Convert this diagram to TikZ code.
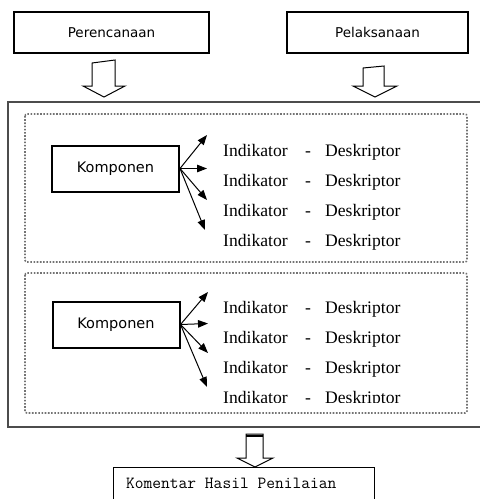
\documentclass[tikz,border=0pt]{standalone}
\usepackage{fontspec}
\setmainfont{Liberation Serif}
\setsansfont{DejaVu Sans}
\usetikzlibrary{arrows.meta}
\begin{document}
\begin{tikzpicture}[x=1pt,y=-1pt,
  topbox/.style={draw, line width=1.8pt, inner sep=0pt, font=\sffamily\fontsize{13.5}{16}\selectfont},
  kbox/.style={draw, line width=2pt, inner sep=0pt, minimum width=127pt, minimum height=46pt, font=\sffamily\fontsize{14.5}{17}\selectfont},
  blockarrow/.style={draw, line width=1pt, fill=white, line join=miter},
  frame/.style={draw=black!70, line width=2.5pt},
  dotbox/.style={draw=black!55, line width=1.6pt, dash pattern=on 1.6pt off 1.6pt, rounded corners=2pt},
  itxt/.style={inner sep=0pt, anchor=base west, font=\fontsize{17.6}{20}\selectfont},
  dtxt/.style={inner sep=0pt, anchor=base, font=\fontsize{17.6}{20}\selectfont},
  fan/.style={line width=1pt, -{Triangle[length=10pt,width=7.5pt]}},
]
\useasboundingbox (0,0) rectangle (480,499);

% top boxes
\node[topbox, minimum width=195pt, minimum height=41pt] (plan) at (111.5,32.5) {Perencanaan};
\node[topbox, minimum width=181pt, minimum height=41pt] (exec) at (377.5,32.5) {Pelaksanaan};

% block arrows
\draw[blockarrow] (92,63) -- (115,60) -- (115,86) -- (125,86) -- (104,97) -- (83,86) -- (92,86) -- cycle;
\draw[blockarrow] (363,68) -- (384,66) -- (384,86) -- (397,86) -- (375,97) -- (353,86) -- (363,86) -- cycle;

% outer frame
\draw[frame] (482,102) -- (8,102) -- (8,427) -- (482,427);

% dotted groups
\draw[dotbox] (25,114) rectangle (467,262);
\draw[dotbox] (25,273) rectangle (467,413);

% group 1
\node[kbox] (k1) at (115.5,168.5) {Komponen};
\coordinate (e11) at (207,135);
\coordinate (e12) at (207,168.5);
\coordinate (e13) at (207,200);
\coordinate (e14) at (205,230);
\foreach \j in {1,...,4} \draw[fan] (k1.east) -- (e1\j);
\foreach \j/\yy in {1/156,2/186,3/216,4/246.5} {
  \node[itxt] (ia\j) at (223,\yy) {Indikator};
  \node[dtxt] (da\j) at (308,\yy) {-};
  \node[itxt] (sa\j) at (325,\yy) {Deskriptor};
}

% group 2
\node[kbox] (k2) at (116,324.5) {Komponen};
\coordinate (e21) at (208,292);
\coordinate (e22) at (208,323.5);
\coordinate (e23) at (208,353);
\coordinate (e24) at (207,387);
\foreach \j in {1,...,4} \draw[fan] (k2.east) -- (e2\j);
\begin{scope}
\clip (25,273) rectangle (467,402);
\foreach \j/\yy in {1/313.5,2/343.5,3/373.5,4/403.5} {
  \node[itxt] (ib\j) at (223,\yy) {Indikator};
  \node[dtxt] (db\j) at (308,\yy) {-};
  \node[itxt] (sb\j) at (325,\yy) {Deskriptor};
}
\end{scope}

% bottom arrow
\draw[blockarrow] (246,434) -- (263,434) -- (263,458) -- (273,458) -- (255,467) -- (237,458) -- (246,458) -- cycle;
\draw[line width=2.5pt] (246,436) -- (263,436);

% result box
\draw[line width=1pt] (113,502) -- (113,467) -- (374,467) -- (374,502);
\node[inner sep=0pt, anchor=west, font=\ttfamily\fontsize{17}{20}\selectfont] (res) at (126,483) {Komentar Hasil Penilaian};
\end{tikzpicture}
\end{document}
